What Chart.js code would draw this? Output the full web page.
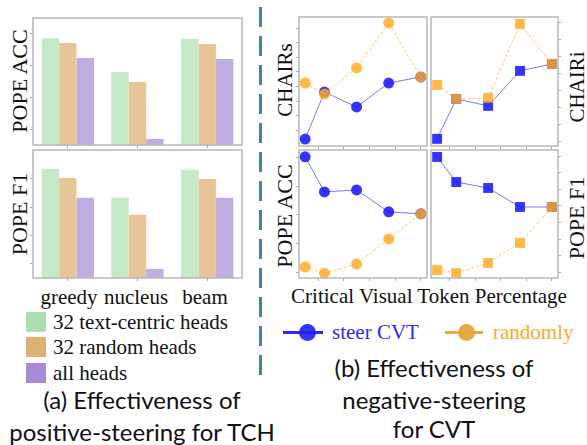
<!DOCTYPE html>
<html>
<head>
<meta charset="utf-8">
<script src="https://cdn.jsdelivr.net/npm/chart.js@4.4.1/dist/chart.umd.min.js"></script>
<style>
  body { margin: 0; background: #fff; }
  #wrap { position: relative; width: 587px; height: 445px; overflow: hidden; background: #fff; }
  .box { position: absolute; }
  .lbl { position: absolute; white-space: nowrap; line-height: 1; font-family: "Liberation Serif", "Times New Roman", "DejaVu Serif", serif; color: #111; }
  .rot { transform: translate(-50%, -50%) rotate(-90deg); }
  .ctr { transform: translate(-50%, -50%); }
  .cap { position: absolute; white-space: nowrap; line-height: 1; font-family: Lato, sans-serif; font-size: 24px; color: #111; transform: translate(-50%, -50%); }
  .sw { position: absolute; width: 20px; height: 20px; }
</style>
</head>
<body>
<div id="wrap">
  <div class="lbl rot" style="left:20px; top:81px; font-size:22px;">POPE ACC</div>
  <div class="lbl rot" style="left:20px; top:214px; font-size:22px;">POPE F1</div>
  <div class="lbl ctr" style="left:69px; top:297px; font-size:21px;">greedy</div>
  <div class="lbl ctr" style="left:136px; top:297px; font-size:21px;">nucleus</div>
  <div class="lbl ctr" style="left:205px; top:297px; font-size:21px;">beam</div>

  <div class="sw" style="left:26px; top:312px; background:#ade0b0;"></div>
  <div class="sw" style="left:26px; top:337px; background:#deb074;"></div>
  <div class="sw" style="left:26px; top:363px; background:#a88bd4;"></div>
  <div class="lbl" style="left:53px; top:312px; font-size:21px;">32 text-centric heads</div>
  <div class="lbl" style="left:53px; top:337px; font-size:21px;">32 random heads</div>
  <div class="lbl" style="left:53px; top:363px; font-size:21px;">all heads</div>

  <div class="cap" style="left:142px; top:400px;">(a) Effectiveness of</div>
  <div class="cap" style="left:142px; top:432px;">positive-steering for TCH</div>

  <div style="position:absolute; left:259px; top:7px; width:3px; height:375px;
       background: repeating-linear-gradient(to bottom, #4b8199 0 20px, transparent 20px 29px);"></div>

  <div class="lbl rot" style="left:285px; top:80px; font-size:21px;">CHAIRs</div>
  <div class="lbl rot" style="left:285px; top:216px; font-size:22px;">POPE ACC</div>
  <div class="lbl rot" style="left:577px; top:87px; font-size:21px;">CHAIRi</div>
  <div class="lbl rot" style="left:577px; top:218px; font-size:22px;">POPE F1</div>
  <div class="lbl ctr" style="left:429px; top:296px; font-size:21px;">Critical Visual Token Percentage</div>

  <div style="position:absolute; left:283px; top:331px; width:40px; height:3px; background:#2a2aff;"></div>
  <div style="position:absolute; left:299px; top:324px; width:17px; height:17px; border-radius:50%; background:rgba(30,30,255,0.9);"></div>
  <div class="lbl" style="left:332px; top:322px; font-size:21px; color:#2a2aff;">steer CVT</div>
  <div style="position:absolute; left:445px; top:331px; width:38px; height:3px; background:#e8a93a;"></div>
  <div style="position:absolute; left:458px; top:324px; width:17px; height:17px; border-radius:50%; background:rgba(225,165,60,0.95);"></div>
  <div class="lbl" style="left:493px; top:322px; font-size:21px; color:#ffa726;">randomly</div>

  <div class="cap" style="left:434px; top:368px;">(b) Effectiveness of</div>
  <div class="cap" style="left:434px; top:400px;">negative-steering</div>
  <div class="cap" style="left:434px; top:429px;">for CVT</div>
</div>
<script>
// (a) bar panels, unitless values
const categories = ['greedy', 'nucleus', 'beam'];
const accText = [3.84, 2.78, 3.81];
const accRandom = [3.69, 2.47, 3.66];
const accAll = [3.22, 0.69, 3.19];
const f1Text = [4.35, 3.33, 4.32];
const f1Random = [4.03, 2.73, 4.00];
const f1All = [3.33, 0.82, 3.33];
const barAccTicks = [1, 2, 3, 4];
const barF1Ticks = [1, 2, 3, 4];

// (b) line panels
const percents = [5, 12.5, 25, 37.5, 50];
const pctTicks = [10, 20, 30, 40, 50];
const chairsSteer = [0.38, 3.62, 2.59, 4.24, 4.66];
const chairsRandom = [4.24, 3.48, 5.28, 8.38, 4.66];
const chairiSteer = [1.18, 3.53, 3.12, 5.18, 5.59];
const chairiRandom = [4.35, 3.53, 3.59, 7.94, 5.59];
const accSteer = [5.04, 3.81, 3.88, 3.11, 3.04];
const accRandomly = [1.18, 0.96, 1.28, 2.16, 3.04];
const f1Steer = [7.97, 6.45, 6.09, 4.94, 4.94];
const f1Randomly = [1.12, 0.94, 1.55, 2.76, 4.94];
const chairsTicks = [1, 2, 3, 4, 5, 6, 7, 8];
const chairiTicks = [1, 2, 3, 4, 5, 6, 7, 8];
const lineAccTicks = [1, 2, 3, 4, 5];
const lineF1Ticks = [1, 2, 3, 4, 5, 6, 7, 8];

const AX = 5, PAD = 3;

const frame = {
  id: 'frame',
  afterDraw(c) {
    const a = c.chartArea, ctx = c.ctx;
    ctx.save();
    ctx.strokeStyle = '#b8b8b8';
    ctx.lineWidth = 1.5;
    ctx.strokeRect(a.left, a.top, a.right - a.left, a.bottom - a.top);
    ctx.restore();
  }
};

function fixTicks(vals) {
  return s => { s.ticks = vals.map(v => ({ value: v })); };
}

function tickGrid() {
  return { drawOnChartArea: false, drawTicks: true, tickLength: 3, color: '#aaa', lineWidth: 1 };
}

function panel(box, yRight, config) {
  const div = document.createElement('div');
  div.className = 'box';
  const padL = yRight ? PAD : AX, padR = yRight ? AX : PAD;
  div.style.left = (box.l - padL) + 'px';
  div.style.top = (box.t - PAD) + 'px';
  div.style.width = (box.r - box.l + padL + padR) + 'px';
  div.style.height = (box.b - box.t + PAD + AX) + 'px';
  const cv = document.createElement('canvas');
  div.appendChild(cv);
  document.getElementById('wrap').appendChild(div);
  config.options.responsive = true;
  config.options.maintainAspectRatio = false;
  config.options.animation = false;
  config.options.layout = { autoPadding: false, padding: { left: yRight ? PAD : 0, right: yRight ? 0 : PAD, top: PAD, bottom: 0 } };
  config.options.plugins = { legend: { display: false }, tooltip: { enabled: false } };
  config.plugins = [frame];
  return new Chart(cv, config);
}

function barPanel(box, a, b, c, ticks, min, max) {
  return panel(box, false, {
    type: 'bar',
    data: {
      labels: categories,
      datasets: [
        { data: a, backgroundColor: '#c6eac7' },
        { data: b, backgroundColor: '#e8c598' },
        { data: c, backgroundColor: '#c0ade2' }
      ]
    },
    options: {
      datasets: { bar: { categoryPercentage: 0.75, barPercentage: 1, borderWidth: 0 } },
      scales: {
        x: { grid: Object.assign(tickGrid(), { offset: false }), border: { display: false }, ticks: { display: false },
             afterFit: s => { s.height = AX; } },
        y: { min: min, max: max, grid: tickGrid(), border: { display: false }, ticks: { display: false },
             afterBuildTicks: fixTicks(ticks), afterFit: s => { s.width = AX; } }
      }
    }
  });
}

function pts(ys) { return percents.map((x, i) => ({ x: x, y: ys[i] })); }

function linePanel(box, yRight, steer, rand, style, radius, ticks, min, max) {
  return panel(box, yRight, {
    type: 'line',
    data: {
      datasets: [
        { data: pts(steer), order: 2, borderColor: 'rgba(60,60,255,0.7)', borderWidth: 1,
          pointBackgroundColor: 'rgba(25,25,255,0.88)', pointBorderWidth: 0 },
        { data: pts(rand), order: 1, borderColor: 'rgba(255,180,60,0.8)', borderWidth: 1, borderDash: [3, 2],
          pointBackgroundColor: 'rgba(255,170,30,0.82)', pointBorderWidth: 0 }
      ]
    },
    options: {
      clip: false,
      elements: { point: { pointStyle: style, radius: radius }, line: { tension: 0 } },
      scales: {
        x: { type: 'linear', min: 2.6, max: 52.4, grid: tickGrid(), border: { display: false }, ticks: { display: false },
             afterBuildTicks: fixTicks(pctTicks), afterFit: s => { s.height = AX; } },
        y: { position: yRight ? 'right' : 'left', min: min, max: max, grid: tickGrid(), border: { display: false },
             ticks: { display: false }, afterBuildTicks: fixTicks(ticks), afterFit: s => { s.width = AX; } }
      }
    }
  });
}

barPanel({ l: 33, t: 18, r: 242, b: 145 }, accText, accRandom, accAll, barAccTicks, 0.5, 4.47);
barPanel({ l: 33, t: 150, r: 242, b: 278 }, f1Text, f1Random, f1All, barF1Ticks, 0.5, 5.02);

linePanel({ l: 299, t: 17, r: 427, b: 146 }, false, chairsSteer, chairsRandom, 'circle', 5.5, chairsTicks, -0.1, 8.79);
linePanel({ l: 431, t: 17, r: 558, b: 146 }, true, chairiSteer, chairiRandom, 'rect', 7, chairiTicks, 0.76, 8.35);
linePanel({ l: 299, t: 150, r: 427, b: 278 }, false, accSteer, accRandomly, 'circle', 5.5, lineAccTicks, 0.79, 5.28);
linePanel({ l: 431, t: 150, r: 558, b: 278 }, true, f1Steer, f1Randomly, 'rect', 7, lineF1Ticks, 0.64, 8.39);
</script>
</body>
</html>
